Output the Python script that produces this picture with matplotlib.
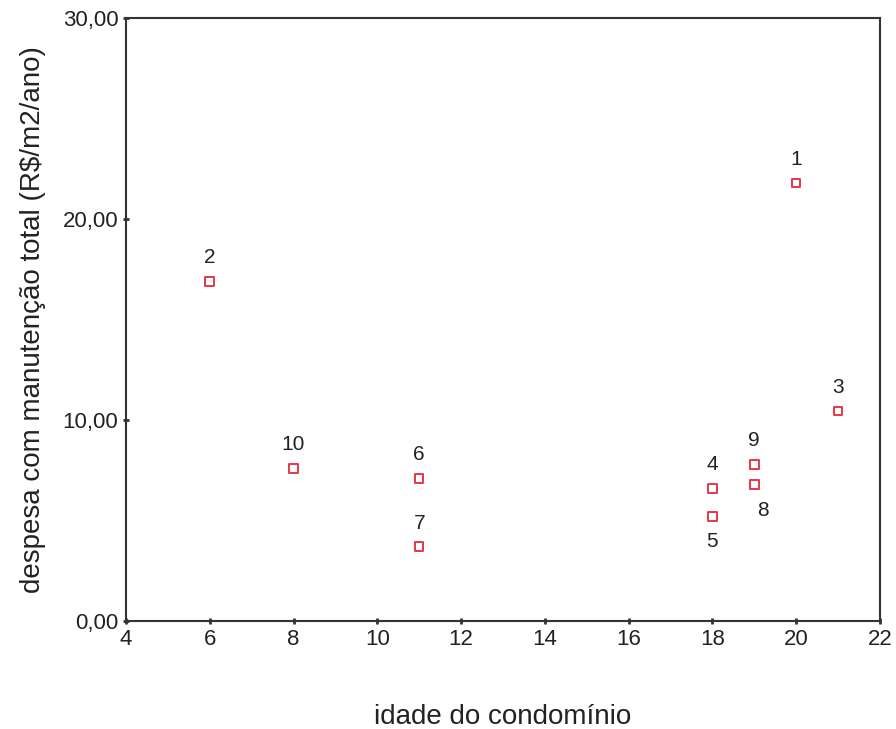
import matplotlib
matplotlib.use("Agg")
import matplotlib.pyplot as plt
from matplotlib.ticker import FuncFormatter

plt.rcParams['font.family'] = ['Liberation Sans', 'DejaVu Sans']

# idade do condominio (anos) e despesa com manutencao (R$/m2/ano)
ids = [1, 2, 3, 4, 5, 6, 7, 8, 9, 10]
idade = [20, 6, 21, 18, 18, 11, 11, 19, 19, 8]
despesa = [21.8, 16.9, 10.45, 6.6, 5.2, 7.1, 3.7, 6.8, 7.8, 7.6]
# label offsets in points (dx, dy)
offsets = {5: (0, -18), 8: (6.5, -19)}

fig = plt.figure(figsize=(8.96, 7.29), dpi=100)
ax = fig.add_axes([0.1406, 0.148, 0.8415, 0.827])

ax.scatter(idade, despesa, marker='s', s=38, facecolors='none',
           edgecolors='#e8364a', linewidths=1.4, zorder=3)

for i, x, y in zip(ids, idade, despesa):
    dx, dy = offsets.get(i, (0, 17))
    ax.annotate(str(i), (x, y), xytext=(dx, dy), textcoords='offset points',
                ha='center', va='center', fontsize=15, color='#222222')

ax.set_xlim(4, 22)
ax.set_ylim(0, 30)
ax.set_xticks(range(4, 23, 2))
ax.set_yticks([0, 10, 20, 30])
ax.yaxis.set_major_formatter(FuncFormatter(lambda v, p: f"{v:.2f}".replace('.', ',')))
ax.tick_params(direction='inout', length=5, width=2, labelsize=16, colors='#333333',
               labelcolor='#222222', pad=3)

for s in ax.spines.values():
    s.set_linewidth(1.5)
    s.set_color('#333333')

ax.set_xlabel('idade do condomínio', fontsize=20, labelpad=39, color='#222222')
ax.set_ylabel('despesa com manutenção total (R$/m2/ano)', fontsize=20, labelpad=12,
              color='#222222')

fig.savefig('out.png', dpi=100)
